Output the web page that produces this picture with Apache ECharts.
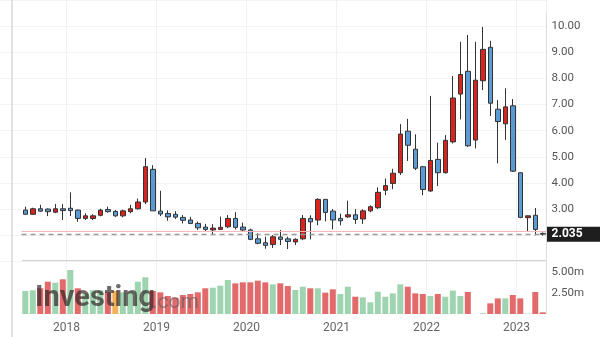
<!DOCTYPE html>
<html><head><meta charset="utf-8">
<script src="https://cdn.jsdelivr.net/npm/echarts@6/dist/echarts.min.js"></script>
<style>html,body{margin:0;padding:0;background:#fff}#c{width:600px;height:337px}</style>
</head><body><div id="c"></div>
<script>
const months = ['2017-07','2017-08','2017-09','2017-10','2017-11','2017-12',
'2018-01','2018-02','2018-03','2018-04','2018-05','2018-06','2018-07','2018-08','2018-09','2018-10','2018-11','2018-12',
'2019-01','2019-02','2019-03','2019-04','2019-05','2019-06','2019-07','2019-08','2019-09','2019-10','2019-11','2019-12',
'2020-01','2020-02','2020-03','2020-04','2020-05','2020-06','2020-07','2020-08','2020-09','2020-10','2020-11','2020-12',
'2021-01','2021-02','2021-03','2021-04','2021-05','2021-06','2021-07','2021-08','2021-09','2021-10','2021-11','2021-12',
'2022-01','2022-02','2022-03','2022-04','2022-05','2022-06','2022-07','2022-08','2022-09','2022-10','2022-11','2022-12',
'2023-01','2023-02','2023-03','2023-04'];
const opens  = [2.96,2.80,3.01,3.00,2.88,3.01,3.03,2.96,2.64,2.64,2.76,2.98,2.91,2.74,2.90,3.01,3.27,4.52,2.92,2.83,2.80,2.68,2.58,2.45,2.31,2.20,2.22,2.32,2.64,2.31,2.20,1.86,1.71,1.64,1.93,1.86,1.74,1.86,2.64,2.58,3.37,2.92,2.64,2.70,2.78,2.62,2.93,3.05,3.72,3.98,4.39,5.98,5.29,4.62,3.69,4.90,4.39,5.57,7.40,8.27,5.64,7.91,9.19,6.82,6.26,6.95,4.39,2.67,2.76,2.07];
const closes = [2.80,3.01,2.92,2.90,3.01,2.94,2.94,2.64,2.74,2.74,2.96,2.90,2.74,2.93,3.01,3.27,4.62,2.93,2.81,2.70,2.69,2.57,2.45,2.28,2.22,2.27,2.30,2.64,2.30,2.20,1.84,1.69,1.61,1.94,1.84,1.76,1.84,2.64,2.51,3.37,2.87,2.58,2.55,2.78,2.60,2.93,3.09,3.64,3.90,4.37,5.87,5.44,4.56,3.75,4.86,4.39,5.63,7.25,8.15,5.42,7.93,9.11,7.05,6.35,6.91,4.45,2.68,2.74,2.22,2.035];
const lows   = [2.78,2.78,2.90,2.73,2.84,2.58,2.73,2.51,2.58,2.58,2.72,2.86,2.70,2.68,2.84,2.98,3.19,2.93,2.73,2.55,2.62,2.45,2.42,2.20,2.12,2.03,2.20,2.27,2.22,2.15,1.81,1.65,1.48,1.51,1.62,1.47,1.62,1.81,1.84,2.38,2.53,2.22,2.38,2.66,2.43,2.43,2.88,3.00,3.53,3.76,4.30,4.84,4.49,3.53,3.66,3.88,4.36,5.51,6.43,5.38,5.32,7.55,6.56,4.75,5.64,4.42,2.65,2.13,1.99,1.98];
const highs  = [3.09,3.05,3.16,3.02,3.19,3.19,3.64,2.98,2.84,2.80,3.01,3.09,2.96,2.98,3.16,3.40,4.95,4.68,3.70,2.95,2.92,2.77,2.70,2.52,2.43,2.42,2.71,2.77,2.88,2.48,2.25,2.07,1.94,2.00,2.20,1.94,1.88,2.77,2.76,3.41,3.37,3.00,2.82,3.32,3.00,2.99,3.14,3.83,4.17,4.54,6.25,6.45,5.86,4.65,7.33,5.54,5.83,8.09,9.40,9.66,9.40,9.97,9.44,7.17,7.62,7.21,4.40,2.75,3.04,2.10];
const volumes = [2.74,2.82,3.06,3.85,3.73,4.13,5.24,3.06,2.46,2.82,2.82,2.58,2.74,2.58,2.66,3.85,4.37,2.74,2.58,2.14,1.94,2.26,2.38,2.58,3.06,3.13,3.37,4.05,3.65,3.77,3.77,3.97,3.77,3.53,3.65,3.33,2.86,
3.25,3.06,3.06,2.54,2.94,2.38,3.25,2.06,1.98,1.39,2.66,2.06,2.46,3.53,3.25,2.46,2.38,2.14,2.38,2.06,2.78,2.14,2.62,0,0.1,1.27,1.86,1.86,2.26,1.86,0.05,2.62,0.2];
const volDirs = ['g','g','r','r','g','r','g','r','g','g','g','r','o','g','g','g','g','r','r','r','r','r','r','r','r','g','g','g','r','r','r','r','r','g','r','r','g',
'g','r','g','r','r','g','g','r','g','g','g','g','g','g','r','r','r','g','r','g','g','g','r','g','g','r','r','g','r','r','g','r','r'];
const yearLabels = ['2018','2019','2020','2021','2022','2023'];
const priceTicks = [3,4,5,6,7,8,9,10];
const volTicks = [2.5,5];
const lastPrice = 2.035;
const prevLine = 2.16;

const monthX = m => { const [y, mo] = m.split('-').map(Number); return (y - 2017) * 12 + (mo - 1) + 0.5; };
const xs = months.map(monthX);
const candleData = months.map((m, i) => [xs[i], opens[i], closes[i], lows[i], highs[i]]);
const volColorMap = { g: '#9fd4b0', r: '#e36a6a', o: '#f2b25a' };
const volData = volumes.map((v, i) => ({ value: [xs[i], v], itemStyle: { color: volColorMap[volDirs[i]] } }));

const FONT = 'Roboto';
const chart = echarts.init(document.getElementById('c'), null, { renderer: 'canvas' });
chart.setOption({
  animation: false,
  backgroundColor: '#fff',
  grid: [
    { left: -23.45, width: 570, top: 0, height: 261.3, containLabel: false, outerBoundsMode: 'none' },
    { left: -23.45, width: 570, top: 261.5, height: 52.5, containLabel: false, outerBoundsMode: 'none' }
  ],
  xAxis: [
    { type: 'value', gridIndex: 0, min: 0, max: 76, interval: 12,
      axisLine: { show: false }, axisTick: { show: false }, axisLabel: { show: false },
      splitLine: { show: true, lineStyle: { color: '#f1f1f1', width: 1 } } },
    { type: 'value', gridIndex: 1, min: 0, max: 76, interval: 12,
      axisLine: { show: false }, axisTick: { show: false },
      axisLabel: { show: true, margin: 8, fontSize: 12, fontFamily: FONT, color: '#666',
        showMinLabel: false, showMaxLabel: false,
        formatter: v => (v % 12 === 0 && v > 0 && yearLabels[v / 12 - 1]) ? yearLabels[v / 12 - 1] : '' },
      splitLine: { show: true, lineStyle: { color: '#f1f1f1', width: 1 } } }
  ],
  yAxis: [
    { type: 'value', gridIndex: 0, position: 'right', min: 1, max: 11, interval: 1,
      axisLine: { show: false }, axisTick: { show: false },
      axisLabel: { margin: 5, fontSize: 11.5, fontFamily: FONT, color: '#555',
        formatter: v => priceTicks.includes(v) ? v.toFixed(2) : '' },
      splitLine: { show: true, lineStyle: { color: '#f3f3f3', width: 1 } } },
    { type: 'value', gridIndex: 1, position: 'right', min: 0, max: 6.25, interval: 2.5,
      axisLine: { show: false }, axisTick: { show: false },
      axisLabel: { margin: 5, fontSize: 11.5, fontFamily: FONT, color: '#555',
        formatter: v => volTicks.includes(v) ? v.toFixed(2) + 'm' : '' },
      splitLine: { show: false } }
  ],
  series: [
    { type: 'bar', xAxisIndex: 1, yAxisIndex: 1, barWidth: 6, data: volData, z: 2 },
    { type: 'candlestick', xAxisIndex: 0, yAxisIndex: 0, barWidth: 5, data: candleData, z: 3,
      itemStyle: { color: '#d9231f', color0: '#5b9bd5', borderColor: '#333', borderColor0: '#333', borderWidth: 1 },
      markLine: { symbol: 'none', silent: true, animation: false,
        data: [
          [ { coord: [6, prevLine], lineStyle: { color: '#f5b7b7', type: 'solid', width: 1 }, label: { show: false } }, { coord: [76, prevLine] } ],
          [ { coord: [6, lastPrice], lineStyle: { color: '#999', type: [5, 4], width: 1.3 },
              label: { show: true, position: 'end', distance: 0, formatter: lastPrice.toFixed(3),
                color: '#fff', backgroundColor: '#1e1e1e', fontWeight: 'bold', fontSize: 12, fontFamily: FONT,
                padding: [2, 20, 1, 5] } },
            { coord: [76, lastPrice] } ]
        ] } }
  ],
  graphic: [
    { type: 'line', shape: { x1: 12, y1: 0, x2: 12, y2: 337 }, style: { stroke: '#d9d9d9', lineWidth: 1.5 }, z: 10 },
    { type: 'line', shape: { x1: 22, y1: 260.5, x2: 547, y2: 260.5 }, style: { stroke: '#d0d0d0', lineWidth: 1 }, z: 10 },
    { type: 'line', shape: { x1: 546.5, y1: 13, x2: 546.5, y2: 314 }, style: { stroke: '#dcdcdc', lineWidth: 1 }, z: 10 },
    { type: 'text', left: 35, top: 284, z: 20, style: { text: 'Investing', font: 'bold 29px Roboto', fill: 'rgba(45,35,35,0.68)' } },
    { type: 'text', left: 152, top: 292, z: 20, style: { text: '.com', font: '21px Roboto', fill: 'rgba(90,90,90,0.6)' } }
  ]
});
</script>
</body></html>
